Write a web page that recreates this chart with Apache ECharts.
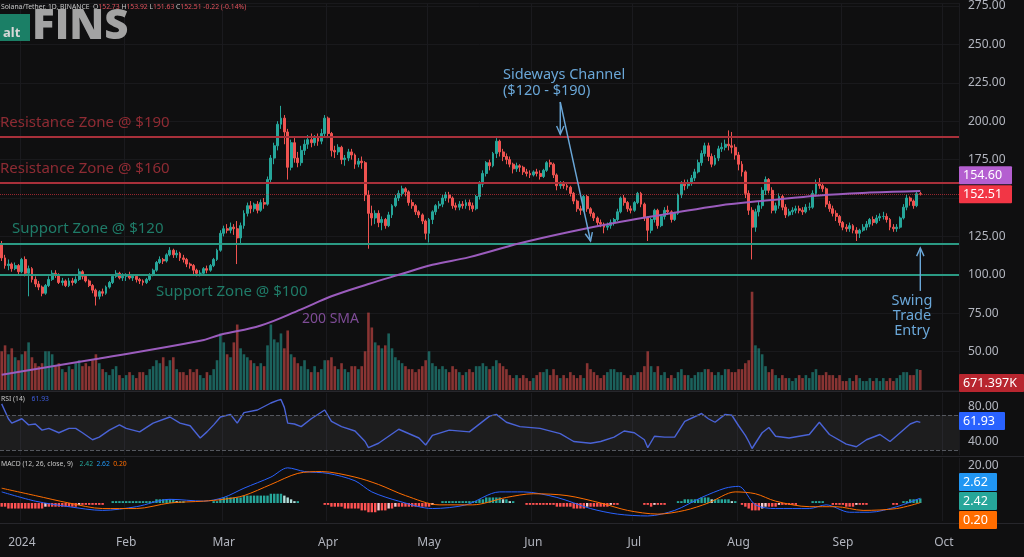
<!DOCTYPE html>
<html><head><meta charset="utf-8">
<script src="https://cdn.jsdelivr.net/npm/echarts@6/dist/echarts.min.js"></script>
<style>html,body{margin:0;padding:0;background:#0f0f10;}#c{width:1024px;height:557px;}</style>
</head><body><div id="c"></div>
<script>
// ---------- DATA ----------
const firstDate = [2023, 11, 26];   // Dec 26 2023 (UTC)
const dayCount = 285;               // categories incl. empty future days
const monthLabels = ['2024','Feb','Mar','Apr','May','Jun','Jul','Aug','Sep','Oct','Nov','Dec'];
const firstOpen = 120;
const closes = [
111,106,107,104,106,102,110,101,104,97,
94,92,88,93,97,101,100,95,96,93,
96,95,97,102,99,96,93,90,86,89,
88,92,95,99,101,98,99,100,98,99,
97,96,95,97,100,103,108,110,109,113,
116,113,114,111,110,107,106,103,101,101,
104,103,106,110,116,127,130,129,131,130,
124,132,140,145,143,146,142,147,146,162,
176,184,198,202,193,170,186,176,173,181,
185,188,186,189,187,192,202,192,181,180,
183,175,176,180,178,172,174,173,152,140,
137,140,134,136,132,139,145,150,153,156,
154,147,145,141,139,135,127,136,141,145,
146,150,152,150,145,144,146,145,147,145,
143,151,159,166,173,171,179,187,180,177,
175,172,169,171,170,167,166,165,167,166,
164,168,173,172,165,158,159,158,157,153,
148,143,142,151,143,140,137,134,133,131,
132,134,136,141,150,147,143,142,147,153,
146,137,129,136,142,132,138,142,141,136,
140,152,159,158,160,163,167,173,179,184,
177,172,176,182,183,185,184,183,178,172,
167,153,142,131,141,145,155,162,155,142,
145,151,144,139,141,142,143,142,141,144,
144,153,160,158,156,146,143,140,138,134,
131,130,132,129,127,129,131,133,136,134,
137,138,138,136,131,130,131,137,144,150,
148,145,152.73,152.51];
const highs = [
122,113,110,108,108,107,111,112,106,105,
99,96,93,94,99,103,103,101,98,97,
98,98,99,104,103,100,97,94,91,90,
91,93,96,100,103,102,101,101,102,100,
100,98,97,98,101,104,109,112,111,114,
118,117,116,115,113,111,108,107,104,103,
105,106,107,111,117,129,132,133,134,133,
135,134,142,147,148,147,148,149,150,164,
178,186,200,210,204,195,188,189,180,184,
188,191,192,191,192,195,204,203,193,184,
185,184,178,182,182,179,176,177,174,155,
145,142,142,138,137,141,146,152,155,158,
157,155,149,146,142,140,136,137,142,146,
148,152,154,154,151,147,148,148,149,149,
147,152,161,168,174,175,180,189,188,182,
179,177,173,173,172,171,169,168,168,169,
168,169,174,175,173,166,161,161,160,158,
154,149,145,152,152,144,141,138,136,134,
134,136,137,143,151,152,148,145,148,154,
154,147,138,137,143,143,139,144,145,142,
141,153,161,162,162,165,169,175,181,186,
186,179,178,184,186,188,194,193,185,180,
174,168,155,144,143,148,157,164,163,157,
147,153,152,146,143,144,145,145,144,146,
147,155,162,163,160,157,148,145,142,139,
135,133,134,133,131,130,133,135,137,138,
139,140,141,140,137,133,133,138,146,152,
151,149,154,153.92];
const lows = [
109,104,103,102,103,100,101,99,86,95,
92,90,86,87,92,96,98,94,93,92,
92,93,94,96,97,95,92,88,80,84,
86,87,91,94,98,97,96,96,97,96,
95,94,93,94,96,99,102,107,107,108,
112,111,111,109,108,105,104,100,99,99,
100,101,102,105,109,115,125,127,127,126,
107,120,130,138,140,141,140,141,143,145,
160,172,181,195,185,162,168,173,170,171,
178,182,183,184,184,185,190,189,177,176,
178,172,171,174,175,169,170,169,148,117,
132,133,131,129,130,131,137,144,148,151,
151,145,143,139,137,133,123,121,133,139,
143,144,148,147,143,142,142,143,143,142,
141,142,149,157,164,168,170,176,177,174,
172,170,166,167,167,165,164,163,164,164,
162,163,167,170,163,155,156,156,155,151,
146,141,139,141,141,138,135,132,131,127,
129,130,132,135,140,145,141,140,141,146,
144,135,122,127,134,130,131,136,139,134,
135,139,150,155,156,158,161,166,171,177,
174,170,171,174,180,181,181,179,175,168,
164,150,139,110,128,138,143,152,153,140,
140,143,142,137,138,139,140,140,139,140,
142,143,151,156,154,144,141,138,135,132,
129,128,128,127,122,124,128,129,131,132,
133,135,136,134,129,128,128,130,136,142,
145,143,144,151.63];
const volumesM = [
1.3,1.5,1.2,1.4,1.1,1.0,1.2,1.3,1.6,1.1,
0.9,0.8,0.9,1.3,1.3,1.2,0.8,0.9,0.7,0.6,
0.8,0.7,0.9,1.0,0.8,0.9,0.8,1.0,1.2,0.9,
0.7,0.6,0.5,0.7,0.8,0.5,0.4,0.5,0.6,0.5,
0.4,0.6,0.6,0.5,0.7,0.8,1.0,0.9,1.1,0.8,
1.0,1.1,0.7,0.6,0.6,0.5,0.7,0.6,0.7,0.5,
0.4,0.6,0.5,0.7,1.0,1.9,1.6,1.2,1.1,1.6,
2.2,1.4,1.2,1.1,1.0,0.9,0.8,0.9,0.8,1.5,
2.2,1.7,1.6,1.9,1.4,2.0,1.2,1.1,0.9,0.8,
1.0,0.7,0.6,0.8,0.6,0.7,1.0,1.0,1.1,0.8,
0.7,0.9,0.7,0.6,0.8,0.8,0.7,0.8,1.3,2.6,
2.1,1.6,1.5,1.4,1.5,1.9,1.4,1.1,1.0,0.9,
0.8,0.7,0.7,0.6,0.7,0.8,1.0,1.3,0.9,0.8,
0.7,0.8,0.7,0.6,0.8,0.7,0.6,0.5,0.6,0.7,
0.6,0.8,0.8,0.9,0.8,0.7,0.8,1.0,0.9,0.8,
0.7,0.5,0.4,0.5,0.4,0.5,0.4,0.3,0.4,0.5,
0.6,0.6,0.7,0.5,0.7,0.5,0.4,0.5,0.4,0.6,
0.5,0.4,0.5,0.4,0.9,0.7,0.6,0.5,0.4,0.5,
0.6,0.7,0.7,0.6,0.6,0.5,0.4,0.5,0.5,0.6,
0.6,0.8,1.3,0.8,0.6,0.8,0.5,0.6,0.4,0.5,
0.4,0.6,0.7,0.5,0.5,0.4,0.5,0.6,0.6,0.7,
0.7,0.6,0.5,0.6,0.5,0.7,0.7,0.6,0.6,0.7,
0.7,0.9,1.0,3.3,1.5,1.4,1.2,0.8,0.6,0.7,
0.5,0.4,0.5,0.4,0.4,0.3,0.4,0.5,0.4,0.5,
0.4,0.6,0.7,0.5,0.5,0.6,0.5,0.5,0.4,0.5,
0.3,0.3,0.4,0.3,0.5,0.4,0.3,0.3,0.4,0.3,
0.4,0.3,0.4,0.3,0.4,0.3,0.4,0.5,0.6,0.6,
0.5,0.5,0.7,0.671];
const sma200Points = [[0,35],[29,45.5],[59,57],[65,61],[77,67],[89,77.5],[98,86],[109,94],[118,100],[128,106.5],[139,111.5],[154,120.5],[169,128],[184,134.5],[199,140],[213,145],[228,148.5],[243,151.7],[258,153.5],[273,154.6]];
const rsiPoints = [[0,83],[2,66],[3,61],[6,66],[8,59],[10,60],[12,53],[14,55],[17,50],[20,55],[22,55],[24,50],[27,42],[29,45],[32,53],[35,59],[37,55],[41,51],[45,61],[50,68],[53,61],[56,58],[59,44],[61,51],[63,59],[65,68],[68,71],[70,61],[72,73],[76,76],[80,84],[82,87],[83,88],[84,79],[85,61],[87,60],[89,57],[92,66],[96,76],[98,63],[101,57],[105,52],[108,40],[109,33],[112,38],[118,54],[124,44],[126,36],[128,47],[133,53],[139,51],[145,69],[147,71],[150,62],[154,57],[160,55],[166,49],[170,40],[175,38],[178,40],[182,45],[185,52],[188,50],[191,42],[192,33],[194,46],[197,45],[200,45],[203,63],[208,72],[210,66],[212,62],[215,71],[217,70],[219,58],[221,47],[222,40],[223,32],[226,50],[228,56],[230,46],[234,44],[240,48],[243,62],[246,48],[251,37],[254,34],[257,42],[261,48],[264,40],[267,50],[270,60],[272,63],[273,61.93]];
const macdPoints = [[0,6],[10,1],[20,-2],[30,-4],[40,-2],[50,2],[60,1],[66,3],[72,8],[80,14],[85,19],[90,17],[97,16],[105,12],[110,6],[118,1],[128,-3],[138,-1],[148,6],[155,6],[165,3],[175,-3],[183,-6],[192,-7],[200,-4],[208,3],[215,8],[219,9],[224,-1],[230,-3],[240,-3],[245,-1],[252,-5],[258,-5],[266,-2],[273,2.62]];
const signalPoints = [[0,8],[10,4],[20,0],[30,-3],[40,-3],[50,0],[60,1],[66,2],[72,4],[80,10],[88,16],[95,17],[105,14],[112,10],[120,4],[130,-1],[140,-1],[150,3],[158,5],[168,4],[178,0],[186,-4],[195,-6],[203,-4],[210,0],[218,6],[224,5],[230,1],[240,-2],[248,-2],[256,-4],[266,-3],[273,0.2]];
const histValues = [
-2,-2,-3,-3,-3,-3,-3,-3,-3,-3,
-3,-3,-3,-2,-2,-2,-2,-2,-2,-2,
-2,-2,-2,-1,-1,-1,-1,-1,-1,-1,
-1,0,0,1,1,1,1,1,1,1,
1,1,1,1,1,1,2,2,2,2,
2,2,1,1,1,0,0,0,0,0,
0,0,0,1,1,2,3,3,3,3,
3,3,4,4,4,4,4,4,4,4,
5,5,5,5,4,3,2,1,1,0,
0,0,0,0,0,0,-1,-1,-2,-2,
-2,-2,-3,-3,-3,-3,-3,-4,-4,-5,
-5,-5,-4,-4,-4,-3,-3,-2,-2,-2,
-2,-2,-2,-2,-2,-2,-2,-2,-1,0,
0,1,1,1,1,1,1,1,1,1,
1,1,2,2,3,3,3,3,3,2,
2,1,1,0,0,0,-1,-1,-1,-1,
-1,-1,-1,-1,-1,-2,-2,-2,-2,-2,
-3,-3,-3,-3,-2,-2,-2,-2,-2,-2,
-2,-1,-1,-1,0,0,0,0,0,0,
0,-1,-1,-2,-1,-1,-1,-1,0,0,
0,1,1,2,2,2,2,2,3,3,
3,2,2,2,2,2,2,1,1,0,
-1,-2,-3,-4,-4,-4,-3,-2,-2,-2,
-2,-1,-1,-1,-1,-1,-1,0,0,0,
0,1,1,1,1,0,0,-1,-1,-1,
-1,-2,-2,-2,-1,-1,-1,-1,0,0,
0,0,0,0,0,-1,-1,0,1,1,
2,2,2,2.42];
const zoneLevels = {res: [190, 160], sup: [120, 100]};
const lastPrice = 152.51, lastSMA = 154.60, lastVol = '671.397K', lastRSI = 61.93;
const macdLegend = {hist: 2.42, macd: 2.62, signal: 0.20};

// ---------- BUILD ----------
const dates = [];
{ const d = new Date(Date.UTC(firstDate[0], firstDate[1], firstDate[2]));
  for (let i = 0; i < dayCount; i++) { dates.push(d.toISOString().slice(0,10)); d.setUTCDate(d.getUTCDate()+1); } }
const isMonthStart = (i) => dates[i] && dates[i].slice(8) === '01';
const monthFmt = (v) => monthLabels[+v.slice(5,7)-1];

const ohlc = closes.map((c, i) => { const o = i === 0 ? firstOpen : closes[i-1]; return [o, c, lows[i], highs[i]]; });
const UP = '#26a69a', DOWN = '#ef5350';
const volData = volumesM.map((v, i) => ({value: v, itemStyle: {color: ohlc[i][1] >= ohlc[i][0] ? 'rgba(38,166,154,0.55)' : 'rgba(239,83,80,0.55)'}}));
const histData = histValues.map((v, i) => {
  const p = i ? histValues[i-1] : v; let col;
  if (v >= 0) col = v >= p ? '#26a69a' : '#b2dfdb'; else col = v <= p ? '#ff5252' : '#ffcdd2';
  return {value: v, itemStyle: {color: col}};
});

const FONT = '"Noto Sans", "Open Sans", sans-serif';
const gridW = 959;
const vSplit = {show: true, interval: (i) => isMonthStart(i), lineStyle: {color: '#1a1a1e', width: 1}};
function xAx(g, showLabel) {
  return {type: 'category', gridIndex: g, data: dates, boundaryGap: true,
    axisLine: {show: false}, axisTick: {show: false, alignWithLabel: true},
    splitLine: vSplit,
    axisLabel: showLabel ? {show: true, interval: (i) => isMonthStart(i), formatter: monthFmt, color: '#b2b5be', fontSize: 12, fontFamily: FONT, margin: 16} : {show: false}};
}
const lblStyle = {color: '#b2b5be', fontSize: 12, fontFamily: FONT, margin: 9};

const option = {
  backgroundColor: '#0f0f10',
  animation: false,
  grid: [
    {left: 0, top: 0, width: gridW, height: 390},
    {left: 0, top: 0, width: gridW, height: 390},
    {left: 0, top: 393, width: gridW, height: 62},
    {left: 0, top: 458, width: gridW, height: 63}
  ],
  xAxis: [xAx(0, false), Object.assign(xAx(1, false), {splitLine: {show: false}}), xAx(2, false), xAx(3, true)],
  yAxis: [
    {type: 'value', gridIndex: 0, position: 'right', min: 25, max: 276.94, interval: 25, scale: true,
      axisLine: {show: false}, axisTick: {show: false},
      splitLine: {show: true, lineStyle: {color: '#19191c'}},
      axisLabel: Object.assign({}, lblStyle, {formatter: (v) => (v % 25 === 0 && v > 25) ? v.toFixed(2) : ''})},
    {type: 'value', gridIndex: 1, min: 0, max: 13.1, show: false},
    {type: 'value', gridIndex: 2, position: 'right', min: 24.57, max: 95.43,
      axisLine: {show: false}, axisTick: {show: false}, splitLine: {show: false},
      axisLabel: Object.assign({}, lblStyle, {customValues: [40, 80], formatter: (v) => v.toFixed(2)})},
    {type: 'value', gridIndex: 3, position: 'right', min: -9.73, max: 24.32,
      axisLine: {show: false}, axisTick: {show: false}, splitLine: {show: false},
      axisLabel: Object.assign({}, lblStyle, {customValues: [20], formatter: (v) => v.toFixed(2)})}
  ],
  series: [
    {type: 'bar', name: 'Volume', xAxisIndex: 1, yAxisIndex: 1, data: volData, barWidth: 2.6, z: 1},
    {type: 'candlestick', name: 'SOL', xAxisIndex: 0, yAxisIndex: 0, data: ohlc, barWidth: 2.4, z: 3,
      itemStyle: {color: UP, color0: DOWN, borderColor: UP, borderColor0: DOWN, borderWidth: 1},
      markLine: {silent: true, symbol: 'none', label: {show: false}, z: 4,
        data: [
          {yAxis: zoneLevels.res[0], lineStyle: {color: '#a8303a', width: 2, type: 'solid'}},
          {yAxis: zoneLevels.res[1], lineStyle: {color: '#a8303a', width: 2, type: 'solid'}},
          {yAxis: zoneLevels.sup[0], lineStyle: {color: '#2b9a84', width: 2, type: 'solid'}},
          {yAxis: zoneLevels.sup[1], lineStyle: {color: '#2b9a84', width: 2, type: 'solid'}},
          {yAxis: lastPrice, lineStyle: {color: 'rgba(242,54,69,0.6)', width: 1, type: 'dotted'}}
        ]}},
    {type: 'line', name: '200 SMA', xAxisIndex: 0, yAxisIndex: 0, data: sma200Points, smooth: 0.4, showSymbol: false,
      lineStyle: {color: '#9b5cbd', width: 2}, z: 5},
    {type: 'line', name: 'RSI', xAxisIndex: 2, yAxisIndex: 2, data: rsiPoints, showSymbol: false,
      lineStyle: {color: '#4a63d6', width: 1.4}, z: 3,
      markArea: {silent: true, itemStyle: {color: 'rgba(120,123,134,0.13)'}, data: [[{yAxis: 70}, {yAxis: 30}]]},
      markLine: {silent: true, symbol: 'none', label: {show: false},
        lineStyle: {color: '#55585f', type: 'dashed', width: 1}, data: [{yAxis: 70}, {yAxis: 30}]}},
    {type: 'bar', name: 'Hist', xAxisIndex: 3, yAxisIndex: 3, data: histData, barWidth: 2.4, z: 2},
    {type: 'line', name: 'MACD', xAxisIndex: 3, yAxisIndex: 3, data: macdPoints, smooth: 0.3, showSymbol: false,
      lineStyle: {color: '#2962ff', width: 1}, z: 3},
    {type: 'line', name: 'Signal', xAxisIndex: 3, yAxisIndex: 3, data: signalPoints, smooth: 0.3, showSymbol: false,
      lineStyle: {color: '#ff6d00', width: 1}, z: 3}
  ]
};

const chart = echarts.init(document.getElementById('c'), null, {renderer: 'canvas'});
chart.setOption(option);

// ---------- ANNOTATIONS ----------
const P = (j, v) => chart.convertToPixel({gridIndex: 0}, [j, v]);
const py = (v) => P(0, v)[1];
const BLUE = '#6aa7d8';
function arrow(p0, p1, color) {
  const ang = Math.atan2(p1[1]-p0[1], p1[0]-p0[0]), L = 9, a = 0.42;
  const h1 = [p1[0]-L*Math.cos(ang-a), p1[1]-L*Math.sin(ang-a)];
  const h2 = [p1[0]-L*Math.cos(ang+a), p1[1]-L*Math.sin(ang+a)];
  return [
    {type: 'line', silent: true, shape: {x1: p0[0], y1: p0[1], x2: p1[0], y2: p1[1]}, style: {stroke: color, lineWidth: 1.4}, z: 20},
    {type: 'polyline', silent: true, shape: {points: [h1, p1, h2]}, style: {stroke: color, lineWidth: 1.4, fill: null}, z: 20}
  ];
}
function txt(x, y, text, fill, size, extra) {
  return {type: 'text', silent: true, x: x, y: y, z: 20,
    style: Object.assign({text: text, fill: fill, fontSize: size, fontFamily: FONT, verticalAlign: 'middle', align: 'left'}, extra || {})};
}
function tag(yc, text, bg, w) {
  return [
    {type: 'rect', silent: true, z: 50, x: 959, y: yc - 9, shape: {x: 0, y: 0, width: w, height: 18, r: 1}, style: {fill: bg}},
    {type: 'text', silent: true, z: 51, x: 963, y: yc + 0.5, style: {text: text, fill: '#ffffff', fontSize: 12.5, fontFamily: FONT, verticalAlign: 'middle', align: 'left'}}
  ];
}
const g = [];
// header & logo
g.push({type: 'text', x: 1, y: 7, z: 20, style: {
  text: '{w|Solana/Tether, 1D, BINANCE}  {w|O}{r|152.73} {w|H}{r|153.92} {w|L}{r|151.63} {w|C}{r|152.51} {r|-0.22 (-0.14%)}',
  verticalAlign: 'middle', fontSize: 6.8, fontFamily: FONT,
  rich: {w: {fill: '#c8c8c8', fontSize: 6.8, fontFamily: FONT}, r: {fill: '#e0525c', fontSize: 6.8, fontFamily: FONT}}}});
g.push({type: 'rect', x: 0, y: 14, z: 20, shape: {width: 30, height: 27}, style: {fill: '#1b7f66'}});
g.push(txt(3, 33, 'alt', '#d8d8d8', 13, {fontWeight: 'bold'}));
g.push(txt(32, 27, 'FINS', '#a3a3a3', 42, {fontWeight: 900, fontFamily: '"Open Sans", sans-serif'}));
// zone labels
g.push(txt(0, py(190) - 14, 'Resistance Zone @ $190', '#8e2b33', 15));
g.push(txt(0, py(160) - 14, 'Resistance Zone @ $160', '#8e2b33', 15));
g.push(txt(12, py(120) - 15, 'Support Zone @ $120', '#1f7b68', 15));
g.push(txt(156, py(100) + 17, 'Support Zone @ $100', '#1f7b68', 15));
g.push(txt(302, 319, '200 SMA', '#7e4c96', 14));
// sideways channel
g.push(txt(503, 75, 'Sideways Channel', BLUE, 14.5));
g.push(txt(503, 91, '($120 - $190)', BLUE, 14.5));
const aStart = P(166, 212.5);
g.push(...arrow(aStart, P(166.4, 191.5), BLUE));
g.push(...arrow(aStart, P(174.8, 122), BLUE));
// swing trade entry
g.push(...arrow(P(273, 89.5), P(273, 117.5), BLUE));
g.push(txt(912, 301, 'Swing', BLUE, 14.5, {align: 'center'}));
g.push(txt(912, 316, 'Trade', BLUE, 14.5, {align: 'center'}));
g.push(txt(912, 331, 'Entry', BLUE, 14.5, {align: 'center'}));
// indicator legends
g.push({type: 'text', x: 1, y: 399, z: 20, style: {text: '{w|RSI (14)}  {b|' + lastRSI.toFixed(2) + '}', verticalAlign: 'middle',
  rich: {w: {fill: '#c8c8c8', fontSize: 6.8, fontFamily: FONT}, b: {fill: '#3f5fe0', fontSize: 6.8, fontFamily: FONT}}}});
g.push({type: 'text', x: 1, y: 464, z: 20, style: {text: '{w|MACD (12, 26, close, 9)}  {g|' + macdLegend.hist.toFixed(2) + '} {b|' + macdLegend.macd.toFixed(2) + '} {o|' + macdLegend.signal.toFixed(2) + '}', verticalAlign: 'middle',
  rich: {w: {fill: '#c8c8c8', fontSize: 6.8, fontFamily: FONT}, g: {fill: '#26a69a', fontSize: 6.8, fontFamily: FONT}, b: {fill: '#2196f3', fontSize: 6.8, fontFamily: FONT}, o: {fill: '#ff6d00', fontSize: 6.8, fontFamily: FONT}}}});
// pane separators
[391.5, 456.5, 523.5].forEach((y) => g.push({type: 'line', silent: true, z: 10, shape: {x1: 0, y1: y, x2: 1024, y2: y}, style: {stroke: '#26262b', lineWidth: 1}}));
// price tags
const yPrice = py(lastPrice);
g.push(...tag(yPrice - 19, lastSMA.toFixed(2), '#b45fd0', 53));
g.push(...tag(yPrice, lastPrice.toFixed(2), '#f23645', 53));
g.push(...tag(383, lastVol, '#b8262f', 65));
g.push(...tag(421, lastRSI.toFixed(2), '#2962ff', 46));
g.push(...tag(482, macdLegend.macd.toFixed(2), '#2196f3', 38));
g.push(...tag(501, macdLegend.hist.toFixed(2), '#26a69a', 38));
g.push(...tag(520, macdLegend.signal.toFixed(2), '#ff6d00', 38));
chart.setOption({graphic: {elements: g}});
</script></body></html>
